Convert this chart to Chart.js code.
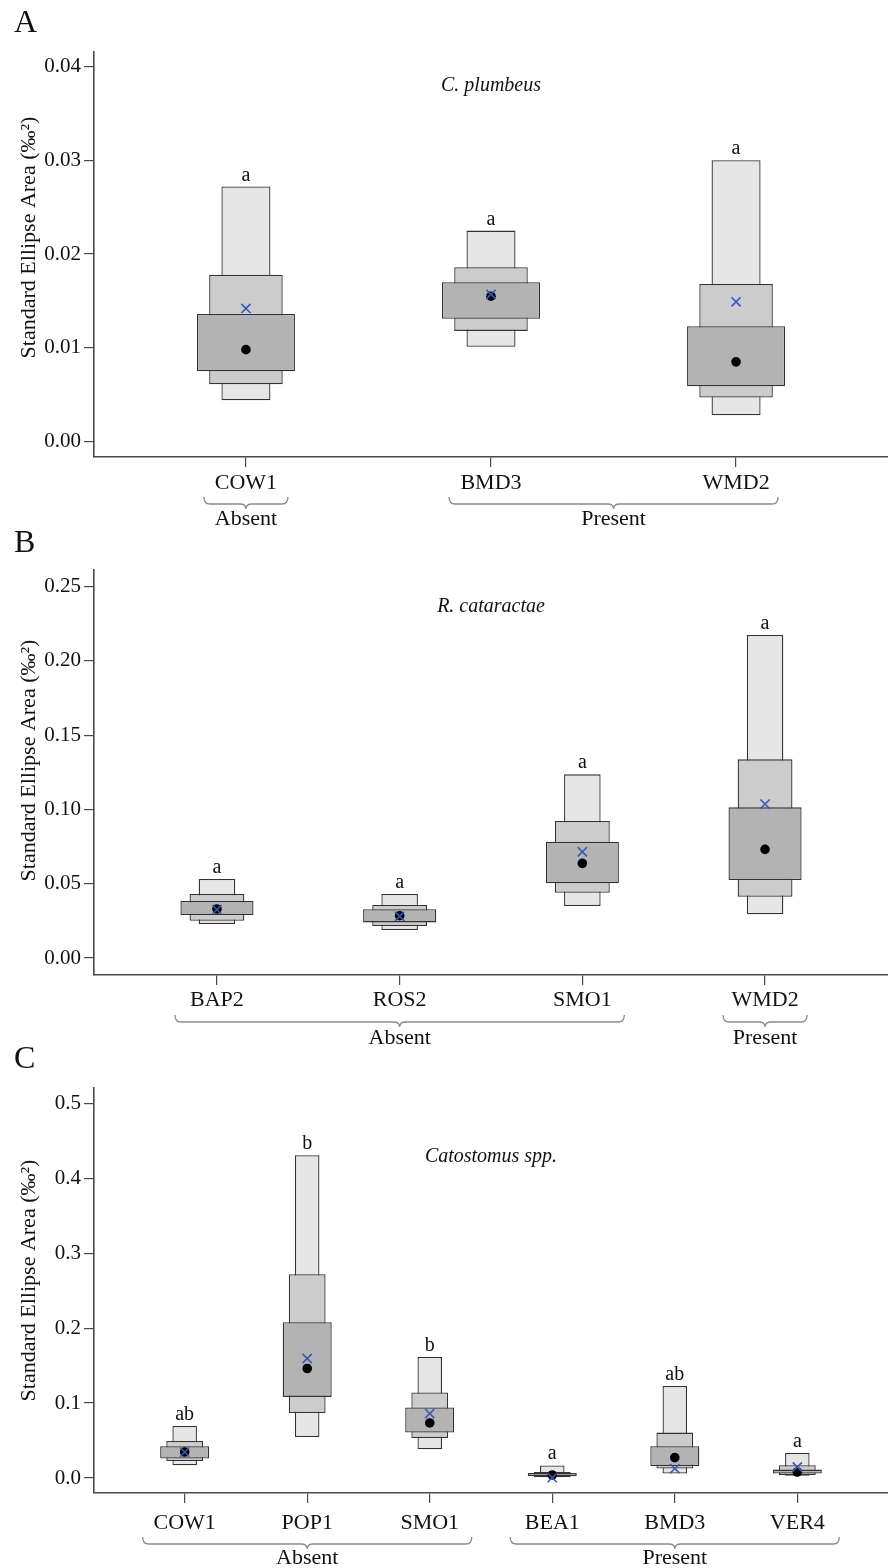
<!DOCTYPE html>
<html>
<head>
<meta charset="utf-8">
<script src="https://cdn.jsdelivr.net/npm/chart.js@4.4.1/dist/chart.umd.min.js"></script>
<style>
  html, body { margin: 0; padding: 0; background: #fff; }
  body { position: relative; width: 888px; height: 1568px; overflow: hidden; }
  canvas { position: absolute; left: 0; }
</style>
</head>
<body>
<canvas id="panelA" width="888" height="530" style="top:0px"></canvas>
<canvas id="panelB" width="888" height="522" style="top:528px"></canvas>
<canvas id="panelC" width="888" height="528" style="top:1040px"></canvas>
<script>
"use strict";

const FONT = "'Liberation Serif', 'Times New Roman', serif";
const LINE = "#4a4a4a";
const Y_TITLE = "Standard Ellipse Area (‰²)";

// Panel A - C. plumbeus
const sitesA = ["COW1", "BMD3", "WMD2"];
const groupsA = ["Absent", "Present", "Present"];
const ci95A = [[0.0044, 0.0272], [0.0101, 0.0225], [0.0028, 0.0300]];
const ci75A = [[0.0061, 0.0178], [0.0118, 0.0186], [0.0047, 0.0168]];
const ci50A = [[0.0075, 0.0136], [0.0131, 0.0170], [0.0059, 0.0123]];
const modeA = [0.0098, 0.0155, 0.0085];
const seacA = [0.0142, 0.0157, 0.0149];
const lettersA = ["a", "a", "a"];
const yTicksA = [0, 0.01, 0.02, 0.03, 0.04];

// Panel B - R. cataractae
const sitesB = ["BAP2", "ROS2", "SMO1", "WMD2"];
const groupsB = ["Absent", "Absent", "Absent", "Present"];
const ci95B = [[0.0229, 0.0532], [0.0188, 0.0431], [0.0350, 0.1236], [0.0294, 0.2174]];
const ci75B = [[0.0251, 0.0431], [0.0215, 0.0357], [0.0439, 0.0922], [0.0413, 0.1337]];
const ci50B = [[0.0289, 0.0384], [0.0240, 0.0328], [0.0503, 0.0783], [0.0525, 0.1014]];
const modeB = [0.0330, 0.0285, 0.0637, 0.0731];
const seacB = [0.0326, 0.0281, 0.0715, 0.1036];
const lettersB = ["a", "a", "a", "a"];
const yTicksB = [0, 0.05, 0.10, 0.15, 0.20, 0.25];

// Panel C - Catostomus spp.
const sitesC = ["COW1", "POP1", "SMO1", "BEA1", "BMD3", "VER4"];
const groupsC = ["Absent", "Absent", "Absent", "Present", "Present", "Present"];
const ci95C = [[0.0170, 0.0694], [0.0548, 0.4306], [0.0383, 0.1616], [0.0010, 0.0168], [0.0059, 0.1229], [0.0030, 0.0334]];
const ci75C = [[0.0227, 0.0494], [0.0868, 0.2720], [0.0534, 0.1140], [0.0015, 0.0080], [0.0126, 0.0606], [0.0040, 0.0170]];
const ci50C = [[0.0259, 0.0423], [0.1082, 0.2079], [0.0606, 0.0940], [0.0025, 0.0068], [0.0160, 0.0423], [0.0059, 0.0112]];
const modeC = [0.0347, 0.1461, 0.0735, 0.0040, 0.0272, 0.0080];
const seacC = [0.0345, 0.1595, 0.0860, 0.0005, 0.0126, 0.0147];
const lettersC = ["ab", "b", "b", "a", "ab", "a"];
const yTicksC = [0, 0.1, 0.2, 0.3, 0.4, 0.5];

function groupRuns(groups) {
    const runs = [];
    groups.forEach(function (g, i) {
        const last = runs[runs.length - 1];
        if (last && last.label === g) last.end = i;
        else runs.push({ label: g, start: i, end: i });
    });
    return runs;
}

function makePanel(id, p) {
    const box = function (arr) { return arr.map(function (r, i) { return { x: i, y: r }; }); };
    const pts = function (arr) { return arr.map(function (v, i) { return { x: i, y: v }; }); };
    const runs = groupRuns(p.groups);

    const annot = {
        id: "annot" + id,
        afterDraw(chart) {
            const ctx = chart.ctx;
            const x = chart.scales.x, y = chart.scales.y, area = chart.chartArea;
            ctx.save();
            ctx.fillStyle = "#111";
            ctx.textAlign = "center";
            ctx.textBaseline = "alphabetic";
            ctx.font = "20px " + FONT;
            p.letters.forEach(function (l, i) {
                ctx.fillText(l, x.getPixelForValue(i), y.getPixelForValue(p.ci95[i][1]) - 6);
            });
            ctx.font = "italic 20px " + FONT;
            ctx.textBaseline = "middle";
            ctx.fillText(p.title, (area.left + area.right) / 2, y.getPixelForValue(p.titleAt));

            // y axis title, sits a little above the middle of the axis
            ctx.save();
            ctx.translate(29, (area.top + area.bottom) / 2 + p.yTitleShift);
            ctx.rotate(-Math.PI / 2);
            ctx.font = "22px " + FONT;
            ctx.fillText(Y_TITLE, 0, 0);
            ctx.restore();

            // group braces
            ctx.strokeStyle = "#8a8a8a";
            ctx.lineWidth = 1.3;
            ctx.font = "22px " + FONT;
            ctx.textBaseline = "middle";
            runs.forEach(function (r) {
                const x1 = x.getPixelForValue(r.start) - 42;
                const x2 = x.getPixelForValue(r.end) + 42;
                const xm = (x1 + x2) / 2;
                const y0 = area.bottom + p.braceAt;
                const h = 7;
                ctx.beginPath();
                ctx.moveTo(x1, y0);
                ctx.quadraticCurveTo(x1, y0 + h, x1 + 6, y0 + h);
                ctx.lineTo(xm - 6, y0 + h);
                ctx.quadraticCurveTo(xm, y0 + h, xm, y0 + h + 5);
                ctx.quadraticCurveTo(xm, y0 + h, xm + 6, y0 + h);
                ctx.lineTo(x2 - 6, y0 + h);
                ctx.quadraticCurveTo(x2, y0 + h, x2, y0);
                ctx.stroke();
                ctx.fillText(r.label, xm, area.bottom + p.labelAt);
            });

            // panel letter
            ctx.textAlign = "left";
            ctx.textBaseline = "alphabetic";
            ctx.font = "32px " + FONT;
            ctx.fillText(p.panel, 14, p.panelBase);
            ctx.restore();
        }
    };

    const barCommon = {
        type: "bar",
        grouped: false,
        categoryPercentage: 1,
        borderColor: "#333",
        borderWidth: 1.3,
        borderSkipped: false
    };

    return new Chart(document.getElementById(id), {
        type: "bar",
        data: {
            datasets: [
                { type: "scatter", data: pts(p.mode), pointStyle: "circle", pointRadius: 4.8,
                  backgroundColor: "#000", borderColor: "#000", borderWidth: 0, order: 1 },
                { type: "scatter", data: pts(p.seac), pointStyle: "crossRot", pointRadius: 6.5,
                  borderColor: "#3d56b8", backgroundColor: "#3d56b8", borderWidth: 1.6, order: 0 },
                Object.assign({}, barCommon, { data: box(p.ci50), backgroundColor: "#b3b3b3", barPercentage: 0.4, order: 2 }),
                Object.assign({}, barCommon, { data: box(p.ci75), backgroundColor: "#cccccc", barPercentage: 0.3, order: 3 }),
                Object.assign({}, barCommon, { data: box(p.ci95), backgroundColor: "#e6e6e6", barPercentage: 0.2, order: 4 })
            ]
        },
        options: {
            responsive: false,
            animation: false,
            devicePixelRatio: 1,
            layout: { autoPadding: false, padding: { top: p.padTop, right: 0, left: 0, bottom: 0 } },
            plugins: { legend: { display: false }, tooltip: { enabled: false } },
            scales: {
                x: {
                    type: "linear",
                    offset: false,
                    min: -p.xPad,
                    max: p.sites.length - 1 + p.xPad,
                    afterBuildTicks: function (s) { s.ticks = p.sites.map(function (c, i) { return { value: i }; }); },
                    afterFit: function (s) { s.height = p.xHeight; s.paddingLeft = 0; s.paddingRight = 0; },
                    ticks: {
                        autoSkip: false, maxRotation: 0, padding: p.xTickPad, color: "#111",
                        font: { family: FONT, size: 22 },
                        callback: function (v) { return p.sites[v]; }
                    },
                    grid: { display: true, offset: false, drawOnChartArea: false, tickLength: 10, color: LINE, lineWidth: 1.2 },
                    border: { color: LINE, width: 1.6 }
                },
                y: {
                    type: "linear",
                    min: p.yMin,
                    max: p.yMax,
                    afterBuildTicks: function (s) { s.ticks = p.yTicks.map(function (v) { return { value: v }; }); },
                    afterFit: function (s) { s.width = 94; },
                    ticks: {
                        padding: 3, color: "#111",
                        font: { family: FONT, size: 21 },
                        callback: function (v) { return v.toFixed(p.dec); }
                    },
                    grid: { display: true, drawOnChartArea: false, tickLength: 10, color: LINE, lineWidth: 1.2 },
                    border: { color: LINE, width: 1.6 },
                    title: { display: false }
                }
            }
        },
        plugins: [annot]
    });
}

makePanel("panelA", {
    panel: "A", title: "C. plumbeus", sites: sitesA, groups: groupsA,
    ci95: ci95A, ci75: ci75A, ci50: ci50A, mode: modeA, seac: seacA, letters: lettersA,
    yTicks: yTicksA, dec: 2, yMin: -0.00165, yMax: 0.04155, titleAt: 0.0379,
    xPad: 0.62, padTop: 52, xHeight: 73, xTickPad: 3,
    braceAt: 40, labelAt: 62, panelBase: 32, yTitleShift: -17
});

makePanel("panelB", {
    panel: "B", title: "R. cataractae", sites: sitesB, groups: groupsB,
    ci95: ci95B, ci75: ci75B, ci50: ci50B, mode: modeB, seac: seacB, letters: lettersB,
    yTicks: yTicksB, dec: 2, yMin: -0.0114, yMax: 0.2611, titleAt: 0.2362,
    xPad: 0.673, padTop: 42, xHeight: 75, xTickPad: 2,
    braceAt: 40, labelAt: 63, panelBase: 24, yTitleShift: -12
});

makePanel("panelC", {
    panel: "C", title: "Catostomus spp.", sites: sitesC, groups: groupsC,
    ci95: ci95C, ci75: ci75C, ci50: ci50C, mode: modeC, seac: seacC, letters: lettersC,
    yTicks: yTicksC, dec: 1, yMin: -0.02, yMax: 0.5204, titleAt: 0.4283,
    xPad: 0.74, padTop: 48, xHeight: 75, xTickPad: 7,
    braceAt: 44, labelAt: 65, panelBase: 28, yTitleShift: -10
});
</script>
</body>
</html>
